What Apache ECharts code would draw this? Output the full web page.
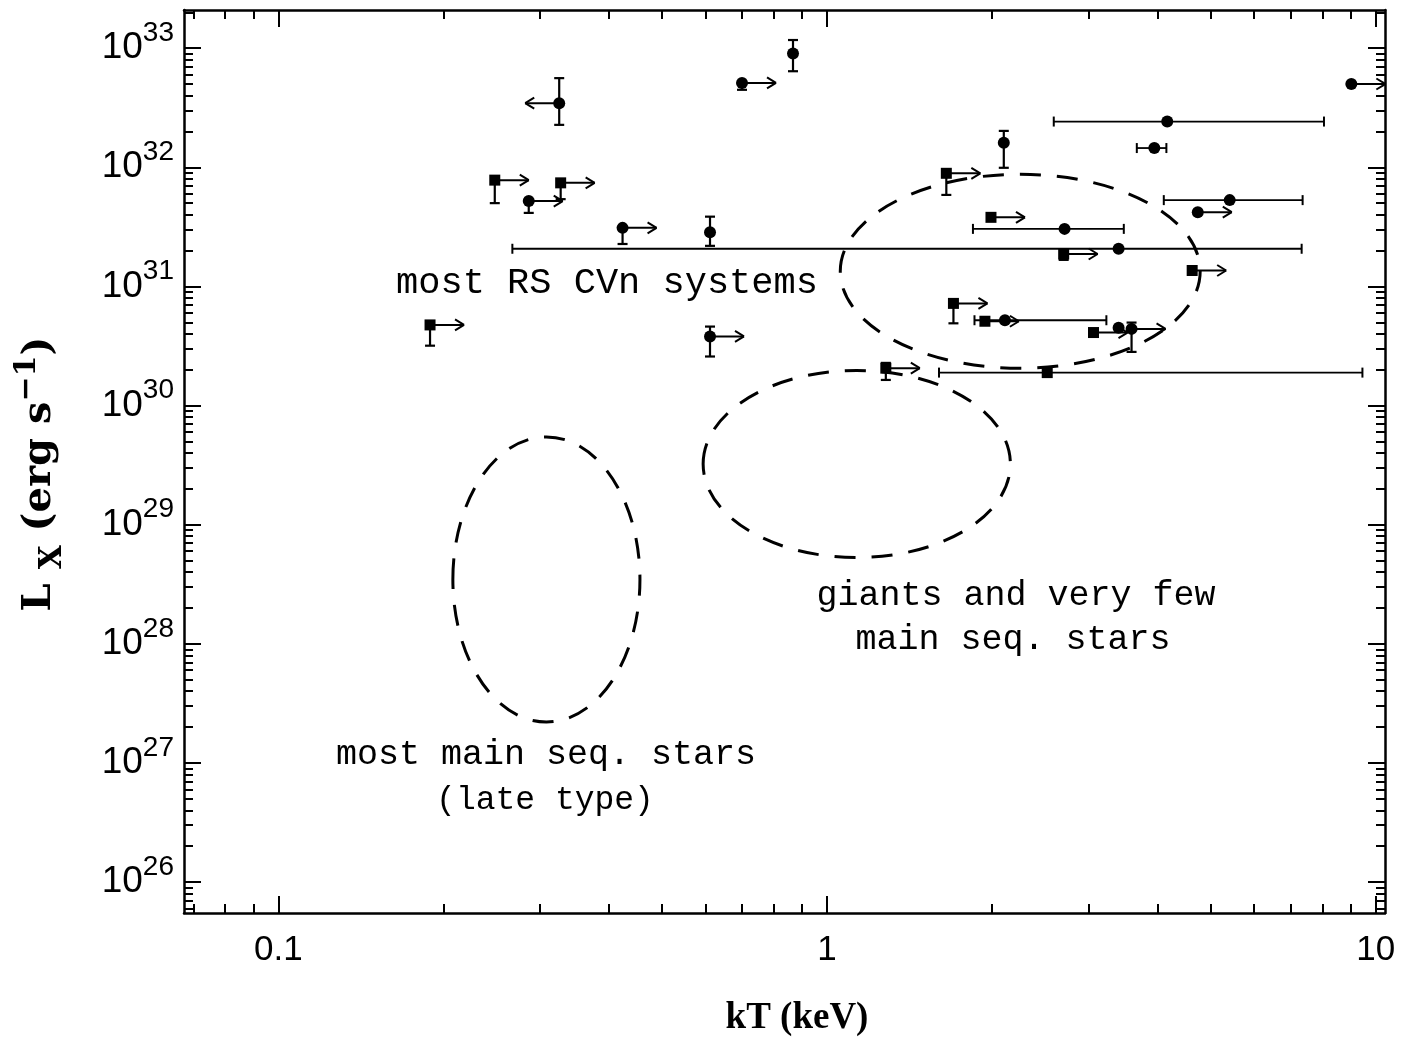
<!DOCTYPE html>
<html><head><meta charset="utf-8">
<script src="https://cdn.jsdelivr.net/npm/echarts@6/dist/echarts.min.js"></script>
<style>html,body{margin:0;padding:0;background:#fff}#c{width:1403px;height:1044px}</style>
</head><body><div id="c"></div>
<script>
// ---- data (kT in keV, Lx in erg/s) ----
const kT     = [0.867, 0.700, 0.325, 0.248, 0.286, 0.327, 0.424, 0.612, 3.40, 0.189, 0.612, 2.10, 1.65, 1.99, 2.71, 2.70, 1.70, 1.94, 2.11, 3.06, 3.40, 3.59, 1.28, 2.52, 9.03, 4.17, 3.95, 5.42, 4.74, 4.63];
const Lx     = [9.0e32, 5.1e32, 3.45e32, 7.8e31, 5.2e31, 7.4e31, 3.1e31, 2.85e31, 2.07e31, 4.75e30, 3.8e30, 1.61e32, 8.9e31, 3.8e31, 3.04e31, 1.87e31, 7.2e30, 5.1e30, 5.2e30, 4.1e30, 4.5e30, 4.4e30, 2.06e30, 1.89e30, 5.0e32, 2.42e32, 1.45e32, 5.3e31, 4.2e31, 1.36e31];
const marker = ['c','c','c','s','c','s','c','c','c','s','c','c','s','s','c','s','s','s','c','s','c','c','s','s','c','c','c','c','c','s'];
const kTLo   = [null,null,null,null,null,null,null,null,0.267,null,null,null,null,null,1.845,null,null,null,1.857,null,null,null,null,1.60,null,2.59,3.67,4.11,null,null];
const kTHi   = [null,null,null,null,null,null,null,null,7.33,null,null,null,null,null,3.475,null,null,null,3.23,null,null,null,null,9.46,null,8.05,4.155,7.36,null,null];
const LxLo   = [6.4e32,4.47e32,2.27e32,5.0e31,4.14e31,5.4e31,2.27e31,2.19e31,null,3.18e30,2.58e30,9.9e31,5.86e31,null,null,1.67e31,4.9e30,null,null,null,null,2.82e30,1.64e30,null,null,null,null,null,null,null];
const LxHi   = [1.17e33,null,5.6e32,null,null,null,null,3.85e31,null,null,4.6e30,2.02e32,null,null,null,null,null,null,null,null,null,4.97e30,2.28e30,null,null,null,null,null,null,null];
// 1 = lower limit on kT (arrow right), -1 = upper limit (arrow left), 0 = none
const kTLimit = [0,1,-1,1,1,1,1,0,0,1,1,0,1,1,0,1,1,1,0,1,0,1,1,0,1,0,0,0,1,1];

// dashed regions: centre (kT, Lx) and half-extent in decades
const regionKT  = [2.25, 1.133, 0.308];
const regionLx  = [1.34e31, 3.23e29, 3.47e28];
const regionHalfDexKT = [0.328, 0.280, 0.1705];
const regionHalfDexLx = [0.814, 0.785, 1.1965];

// axes
const xRange = [0.0673, 10.4];
const yRange = [5.5e25, 2.09e33];
const xTickValues = [0.1, 1, 10];
const xTickLabels = ['0.1', '1', '10'];
const yTickExponents = [26, 27, 28, 29, 30, 31, 32, 33];

// ---- build ----
const L = Math.log10;
const xMin = L(xRange[0]), xMax = L(xRange[1]);
const yMin = L(yRange[0]), yMax = L(yRange[1]);
function minorTicks(lo, hi) {
  const out = [];
  for (let d = Math.floor(lo) - 1; d <= Math.ceil(hi); d++) {
    for (let k = 2; k <= 9; k++) { const v = d + L(k); if (v > lo && v < hi) out.push(v); }
  }
  return out;
}
const xMajor = xTickValues.map(L);
const xMinor = minorTicks(xMin, xMax);
const yMajor = yTickExponents.slice();
const yMinor = minorTicks(yMin, yMax);

const BLACK = '#000';
const lineAx = { show: true, onZero: false, lineStyle: { color: BLACK, width: 2.5 } };
const noLine = { show: false, onZero: false };
function xAx(pos, major, label) {
  return {
    type: 'value', gridIndex: 0, position: pos, min: xMin, max: xMax,
    axisLine: major ? lineAx : noLine,
    splitLine: { show: false },
    axisTick: { show: true, inside: true, length: major ? 17 : 9, customValues: major ? xMajor : xMinor, lineStyle: { color: BLACK, width: 2 } },
    axisLabel: label ? {
      show: true, customValues: xMajor, margin: 20, color: BLACK,
      fontFamily: 'Liberation Sans', fontSize: 35,
      formatter: v => { const i = xMajor.findIndex(t => Math.abs(t - v) < 1e-6); return i >= 0 ? xTickLabels[i] : ''; }
    } : { show: false }
  };
}
function yAx(pos, major, label) {
  return {
    type: 'value', gridIndex: 0, position: pos, min: yMin, max: yMax,
    axisLine: major ? lineAx : noLine,
    splitLine: { show: false },
    axisTick: { show: true, inside: true, length: major ? 17 : 9, customValues: major ? yMajor : yMinor, lineStyle: { color: BLACK, width: 2 } },
    axisLabel: label ? {
      show: true, customValues: yMajor, margin: 10, color: BLACK,
      formatter: v => '{b|10}{s|' + Math.round(v) + '}',
      rich: {
        b: { fontFamily: 'Liberation Sans', fontSize: 37, lineHeight: 58, color: BLACK },
        s: { fontFamily: 'Liberation Sans', fontSize: 28, lineHeight: 30, verticalAlign: 'top', color: BLACK }
      }
    } : { show: false }
  };
}

const pointData = kT.map((v, i) => [L(v), L(Lx[i]), i]);
const regionData = regionKT.map((v, i) => [L(v), L(regionLx[i]), regionHalfDexKT[i], regionHalfDexLx[i]]);

function renderPoint(params, api) {
  const i = api.value(2);
  const lx = api.value(0), ly = api.value(1);
  const p = api.coord([lx, ly]);
  const ch = [];
  const line = (x1, y1, x2, y2, w) => ch.push({ type: 'line', shape: { x1, y1, x2, y2 }, style: { stroke: BLACK, lineWidth: w || 2 } });
  if (kTLo[i] != null) {
    const a = api.coord([L(kTLo[i]), ly]), b = api.coord([L(kTHi[i]), ly]);
    line(a[0], p[1], b[0], p[1], 1.8);
    line(a[0], p[1] - 5, a[0], p[1] + 5, 2);
    line(b[0], p[1] - 5, b[0], p[1] + 5, 2);
  }
  if (LxLo[i] != null) {
    const a = api.coord([lx, L(LxLo[i])]);
    line(p[0], p[1], p[0], a[1], 2.2);
    line(p[0] - 5, a[1], p[0] + 5, a[1], 2.2);
  }
  if (LxHi[i] != null) {
    const a = api.coord([lx, L(LxHi[i])]);
    line(p[0], p[1], p[0], a[1], 2.2);
    line(p[0] - 5, a[1], p[0] + 5, a[1], 2.2);
  }
  const dir = kTLimit[i];
  if (dir) {
    const len = 34, ex = p[0] + dir * len;
    line(p[0], p[1], ex, p[1], 2);
    line(ex, p[1], ex - dir * 9, p[1] - 5.5, 2);
    line(ex, p[1], ex - dir * 9, p[1] + 5.5, 2);
  }
  if (marker[i] === 's') {
    ch.push({ type: 'rect', shape: { x: p[0] - 5.5, y: p[1] - 5.5, width: 11, height: 11 }, style: { fill: BLACK } });
  } else {
    ch.push({ type: 'circle', shape: { cx: p[0], cy: p[1], r: 6 }, style: { fill: BLACK } });
  }
  return { type: 'group', children: ch };
}

function renderRegion(params, api) {
  const c = api.coord([api.value(0), api.value(1)]);
  const s = api.size([api.value(2), api.value(3)]);
  return {
    type: 'ellipse', shape: { cx: c[0], cy: c[1], rx: s[0], ry: s[1] },
    style: { fill: null, stroke: BLACK, lineWidth: 3, lineDash: [21, 16] }
  };
}

const annFont = sz => sz + 'px "Liberation Mono"';
const option = {
  animation: false,
  backgroundColor: '#fff',
  grid: { left: 184, right: 18, top: 10, bottom: 131, containLabel: false },
  xAxis: [xAx('bottom', true, true), xAx('bottom', false, false), xAx('top', true, false), xAx('top', false, false)],
  yAxis: [yAx('left', true, true), yAx('left', false, false), yAx('right', true, false), yAx('right', false, false)],
  series: [
    { type: 'custom', xAxisIndex: 0, yAxisIndex: 0, renderItem: renderRegion, data: regionData, clip: true, silent: true },
    { type: 'custom', xAxisIndex: 0, yAxisIndex: 0, renderItem: renderPoint, data: pointData, clip: true, silent: true }
  ],
  graphic: [
    { type: 'text', x: 607, y: 283, style: { text: 'most RS CVn systems', font: annFont(37), fill: BLACK, textAlign: 'center', textVerticalAlign: 'middle' } },
    { type: 'text', x: 1016, y: 596, style: { text: 'giants and very few', font: annFont(35), fill: BLACK, textAlign: 'center', textVerticalAlign: 'middle' } },
    { type: 'text', x: 1013, y: 640, style: { text: 'main seq. stars', font: annFont(35), fill: BLACK, textAlign: 'center', textVerticalAlign: 'middle' } },
    { type: 'text', x: 546, y: 755, style: { text: 'most main seq. stars', font: annFont(35), fill: BLACK, textAlign: 'center', textVerticalAlign: 'middle' } },
    { type: 'text', x: 545, y: 800, style: { text: '(late type)', font: annFont(33), fill: BLACK, textAlign: 'center', textVerticalAlign: 'middle' } },
    { type: 'text', x: 797, y: 1018, style: { text: 'kT (keV)', font: 'bold 37px "Liberation Serif"', fill: BLACK, textAlign: 'center', textVerticalAlign: 'middle' } },
    { type: 'text', x: 40, y: 474, rotation: Math.PI / 2,
      style: {
        text: '{m|L }{sub|X}{m| (erg s}{sup|\u22121}{m|)}', fill: BLACK, textAlign: 'center', textVerticalAlign: 'middle',
        rich: {
          m: { fontFamily: 'DejaVu Serif', fontWeight: 'bold', fontSize: 40, lineHeight: 56, color: BLACK },
          sub: { fontFamily: 'DejaVu Serif', fontWeight: 'bold', fontSize: 31, lineHeight: 32, verticalAlign: 'bottom', color: BLACK },
          sup: { fontFamily: 'DejaVu Serif', fontWeight: 'bold', fontSize: 30, lineHeight: 30, verticalAlign: 'top', color: BLACK }
        }
      } }
  ]
};
const chart = echarts.init(document.getElementById('c'), null, { renderer: 'canvas' });
chart.setOption(option);
</script>
</body></html>
